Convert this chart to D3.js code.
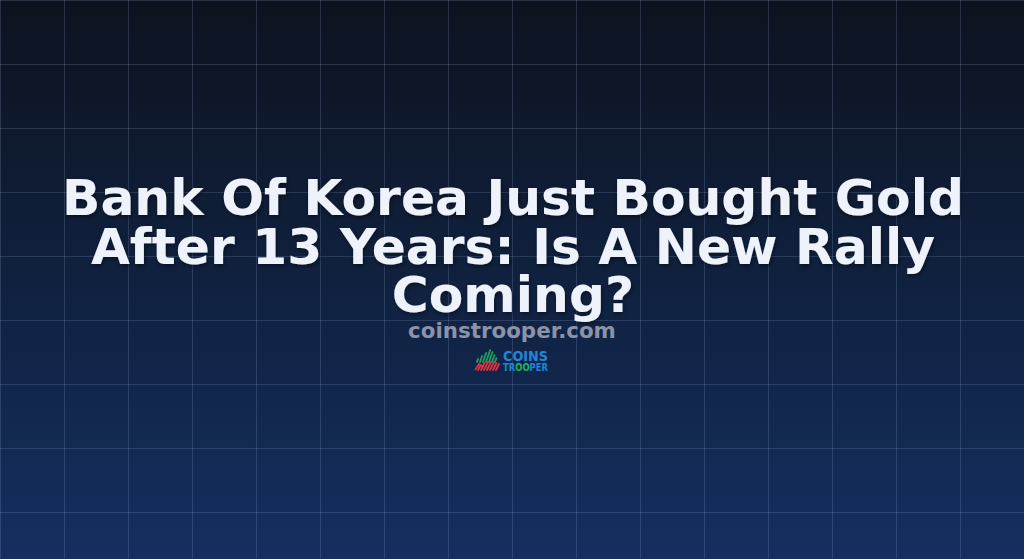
<!DOCTYPE html>
<html>
<head>
<meta charset="utf-8">
<script src="https://cdn.jsdelivr.net/npm/d3@7"></script>
<style>
html,body{margin:0;padding:0;background:#0e1421;overflow:hidden;}
svg{display:block;}
</style>
</head>
<body>
<svg id="chart" width="1024" height="559"></svg>
<script>
// ---- data ----
const titleLines = ["Bank Of Korea Just Bought Gold", "After 13 Years: Is A New Rally", "Coming?"];
const subtitle = "coinstrooper.com";
const logoWord1 = "COINS";
const logoWord2 = ["TR", "OO", "PER"];
const gridStepsX = [0, 64, 128, 192, 256, 320, 384, 448, 512, 576, 640, 704, 768, 832, 896, 960, 1024];
const gridStepsY = [0, 64, 128, 192, 256, 320, 384, 448, 512];
// logo icon strokes: green height, red height
const logoGreen = [3, 6, 9, 12, 10, 7, 4];
const logoRed = [5, 7, 8, 8, 8, 7, 6];

const W = 1024, H = 559;
const svg = d3.select("#chart");
const defs = svg.append("defs");

const grad = defs.append("linearGradient").attr("id", "bg").attr("x1", 0).attr("y1", 0).attr("x2", 0).attr("y2", 1);
grad.append("stop").attr("offset", "0%").attr("stop-color", "#0d121e");
grad.append("stop").attr("offset", "50%").attr("stop-color", "#10213f");
grad.append("stop").attr("offset", "100%").attr("stop-color", "#142f60");

const sh = defs.append("filter").attr("id", "shadow").attr("x", "-10%").attr("y", "-30%").attr("width", "120%").attr("height", "160%");
sh.append("feDropShadow").attr("dx", 1).attr("dy", 2).attr("stdDeviation", 2).attr("flood-color", "#000").attr("flood-opacity", 0.45);

svg.append("rect").attr("width", W).attr("height", H).attr("fill", "url(#bg)");

const x = d3.scaleLinear().domain([0, 1024]).range([0, W]);
const y = d3.scaleLinear().domain([0, 559]).range([0, H]);

const grid = svg.append("g").attr("stroke", "#8fa3c8").attr("stroke-opacity", 0.22).attr("stroke-width", 1);
grid.selectAll("line.v").data(gridStepsX).join("line").attr("class", "v")
  .attr("x1", d => x(d) + 0.5).attr("x2", d => x(d) + 0.5).attr("y1", 0).attr("y2", H);
grid.selectAll("line.h").data(gridStepsY).join("line").attr("class", "h")
  .attr("y1", d => y(d) + 0.5).attr("y2", d => y(d) + 0.5).attr("x1", 0).attr("x2", W);

// title
const baselines = d3.scalePoint().domain(titleLines).range([215, 312]);
const title = svg.append("g").attr("filter", "url(#shadow)");
title.selectAll("text").data(titleLines).join("text")
  .attr("x", 513).attr("y", d => baselines(d))
  .attr("text-anchor", "middle")
  .attr("font-family", "DejaVu Sans")
  .attr("font-weight", "bold")
  .attr("font-size", 52)
  .attr("fill", "#eef2fb")
  .text(d => d);

const t0 = title.select("text").node();
const w0 = t0.getComputedTextLength();
const fs = 52 * 902 / w0;
title.selectAll("text").attr("font-size", fs);

const sub = svg.append("text").attr("x", 512).attr("y", 338)
  .attr("text-anchor", "middle").attr("font-family", "DejaVu Sans").attr("font-weight", "bold")
  .attr("font-size", 19).attr("fill", "#8a93a8").text(subtitle);
const sw = sub.node().getComputedTextLength();
sub.attr("font-size", 19 * 208 / sw);

// logo icon
const logo = svg.append("g").attr("transform", "translate(475,350)");
const lx = d3.scaleLinear().domain([0, logoGreen.length - 1]).range([2, 20]);
const ly = d3.scaleLinear().domain([0, 12]).range([12, 0]);
logo.selectAll("line.g").data(logoGreen).join("line").attr("class", "g")
  .attr("x1", (d, i) => lx(i)).attr("y1", ly(0))
  .attr("x2", (d, i) => lx(i) + d * 0.35).attr("y2", d => ly(d))
  .attr("stroke", "#1fa35a").attr("stroke-width", 1.8).attr("stroke-linecap", "round");
logo.selectAll("line.r").data(logoRed).join("line").attr("class", "r")
  .attr("x1", (d, i) => lx(i) + 1).attr("y1", 20)
  .attr("x2", (d, i) => lx(i) + 1 + d * 0.5).attr("y2", d => 20 - d)
  .attr("stroke", "#e0323e").attr("stroke-width", 1.8).attr("stroke-linecap", "round");
logo.append("path").attr("d", "M0,20 L4,14 L8,17").attr("fill", "none").attr("stroke", "#e0323e").attr("stroke-width", 1.8).attr("stroke-linejoin", "round");

svg.append("text").attr("x", 503).attr("y", 361).attr("font-family", "DejaVu Sans").attr("font-weight", "bold")
  .attr("font-size", 14).attr("fill", "#1f86dc").attr("textLength", 45).attr("lengthAdjust", "spacingAndGlyphs").text(logoWord1);
const t2 = svg.append("text").attr("x", 503).attr("y", 371).attr("font-family", "DejaVu Sans").attr("font-weight", "bold")
  .attr("font-size", 10).attr("textLength", 45).attr("lengthAdjust", "spacingAndGlyphs");
t2.selectAll("tspan").data(logoWord2).join("tspan")
  .attr("fill", (d, i) => i === 1 ? "#22b35e" : "#1f86dc").text(d => d);
</script>
</body>
</html>
